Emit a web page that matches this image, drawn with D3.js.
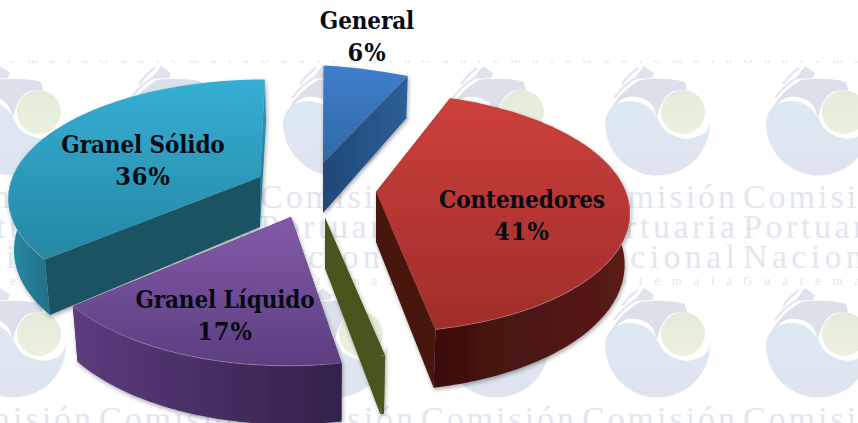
<!DOCTYPE html>
<html lang="es">
<head>
  <meta charset="UTF-8">
  <title>Carga por tipo</title>
  <script src="https://d3js.org/d3.v7.min.js"></script>
  <style>
    html, body { margin: 0; padding: 0; background: #fff; overflow: hidden; }
    .mark-text { font-family: "Liberation Serif", serif; fill: #e2e6ef; }
    .label { font-family: "DejaVu Serif", serif; font-stretch: condensed; font-weight: bold; font-size: 24px; letter-spacing: -0.12px; fill: #050a14; text-anchor: middle; }
    .percent { font-size: 25px; letter-spacing: 1px; }
  </style>
</head>
<body>
  <svg width="858" height="423"></svg>

  <script>
    // values (the green slice has no label, nearly zero)
    const categories = ['General', 'Contenedores', 'Otros', 'Granel Líquido', 'Granel Sólido'];
    const values = [6, 41, 0.2, 17, 36];
    const percentLabels = ['6%', '41%', '', '17%', '36%'];

    // watermark texts
    const markWords = ['Comisión', 'Portuaria', 'Nacional', 'Guatemala'];
    const markBaseline = [80, 110, 140, 157];
    const markSize = [34, 34, 34, 13];
    const tileX = [14, 175, 336, 497, 658, 819];
    const tileY = [-94, 128, 350];

    const svg = d3.select('svg');
    const defs = svg.append('defs');

    function gradient(id, stops, horizontal) {
      const g = defs.append('linearGradient').attr('id', id)
        .attr('x1', 0).attr('y1', 0)
        .attr('x2', horizontal ? 1 : 0).attr('y2', horizontal ? 0 : 1);
      stops.forEach((c, i) => g.append('stop')
        .attr('offset', i / (stops.length - 1)).attr('stop-color', c));
      return 'url(#' + id + ')';
    }

    defs.append('clipPath').attr('id', 'page')
      .append('rect').attr('x', 0).attr('y', 60).attr('width', 858).attr('height', 363);

    const shadow = defs.append('filter').attr('id', 'shadow')
      .attr('x', '-10%').attr('y', '-10%').attr('width', '120%').attr('height', '125%');
    shadow.append('feDropShadow').attr('dx', 1).attr('dy', 2).attr('stdDeviation', 2)
      .attr('flood-color', '#000').attr('flood-opacity', 0.35);

    const discFill = gradient('disc', ['#dce9f3', '#dfe4ef']);
    const sunFill = gradient('sun', ['#e4ebdb', '#ecf1dd']);

    // watermark tiles, the top row only shows the foot of its last word
    const marks = svg.append('g').attr('clip-path', 'url(#page)');
    tileY.forEach(ty => tileX.forEach(tx => {
      const t = marks.append('g').attr('transform', 'translate(' + tx + ',' + ty + ')');
      if (ty > 0) {
        t.append('path').attr('fill', discFill)
          .attr('d', 'M-53,-4A52,52 0 0 0 52,-6C50,2 46,7 40,8C32,12 24,11 17,8C9,5 5,1 2,-5C-4,-19 -14,-27 -28,-27C-42,-27 -53,-18 -53,-4Z');
        t.append('circle').attr('cx', 25).attr('cy', -16).attr('r', 22).attr('fill', sunFill);
        t.append('path').attr('fill', '#dbe0eb')
          .attr('d', 'M-50,-11C-46,-24 -38,-36 -18,-48C-4,-50 14,-50 27,-46L29,-38C22,-38 16,-38 12,-35C5,-30 1,-20 -1,-10C-3,-18 -6,-24 -9,-26C-15,-31 -24,-32 -30,-31C-38,-29 -45,-22 -50,-11Z');
        t.append('path').attr('fill', '#dfe3ed')
          .attr('d', 'M-24,-49L-14,-62L-4,-55L-6,-50Z');
        t.append('path').attr('fill', 'none').attr('stroke', '#e3e7f0').attr('stroke-width', 2.5)
          .attr('d', 'M-36,-44C-31,-51 -26,-56 -20,-60M-44,-30C-38,-38 -30,-46 -22,-50');
      }
      markWords.forEach((w, i) => {
        if (ty + markBaseline[i] < 60) return;
        t.append('text').attr('class', 'mark-text')
          .attr('x', -76).attr('y', markBaseline[i])
          .attr('font-size', markSize[i])
          .attr('textLength', i === 3 ? 150 : 153)
          .attr('lengthAdjust', 'spacing')
          .text(w);
      });
    }));

    // 3D pie: each slice has its own apex, flat disc seen in perspective
    const pie = d3.pie().sort(null)(values);
    const R = 250, Ry = 120, thick = 50, persp = 0.17, lean = 0.07, centerX = 330, narrow = 0.018;

    const apex = [
      { x: 323, y: 163, rx: 1.09, ry: 0.98, tilt: 14 },
      { x: 376, y: 192, rx: 1, ry: 1, tilt: 0 },
      { x: 325, y: 218, rx: 1.07, ry: 1, tilt: 0 },
      { x: 291, y: 217, rx: 1.01, ry: 1.06, tilt: 0 },
      { x: 260, y: 177, rx: 0.99, ry: 0.98, tilt: 0 }
    ];

    const looks = [
      { top: gradient('t0', ['#3f7fcb', '#3067a6']), cut: gradient('c0', ['#1f4877', '#2d5f98'], true), rim: '#2a5a92', end: gradient('e0', ['#1f4877', '#2d5f98'], true) },
      { top: gradient('t1', ['#cc403c', '#a02d2a']), cut: '#471411', rim: gradient('r1', ['#3c0f0e', '#5c1b18'], true), end: '#471411' },
      { top: '#46561f', cut: '#46561f', rim: '#46561f', end: '#46561f' },
      { top: gradient('t3', ['#825aa9', '#5c3e80']), cut: '#33214a', rim: gradient('r3', ['#5c3c7e', '#33214a'], true), end: '#33214a' },
      { top: gradient('t4', ['#35afd4', '#2587a4']), cut: '#1b5362', rim: gradient('r4', ['#2a8aa6', '#1f7088'], true), end: gradient('c4', ['#2fa0c2', '#1f7088']) }
    ];

    const line = d3.line();
    const closed = pts => line(pts) + 'Z';

    // z = 0 on the top face, z = 1 on the underside, which sits a little nearer the middle
    function rimPoint(a, theta, z) {
      const depth = -Math.cos(theta), s = 1 + persp * depth;
      const x = a.x + R * a.rx * Math.sin(theta) * s + (a.x - centerX) * lean * depth;
      const y = a.y + Ry * a.ry * depth * s + a.tilt * Math.sin(theta);
      return [x + z * narrow * (centerX - x), y + z * thick * s];
    }

    function arcAngles(from, to) {
      const n = Math.max(2, Math.ceil((to - from) / 0.02));
      return d3.range(n + 1).map(i => from + (to - from) * i / n);
    }

    function cutFace(a, theta) {
      return closed([[a.x, a.y], rimPoint(a, theta, 0), rimPoint(a, theta, 1), [a.x, a.y + thick]]);
    }

    const order = [0, 4, 1, 3, 2];
    const slices = svg.append('g');

    order.forEach(i => {
      const d = pie[i], a = apex[i], look = looks[i];
      const g = slices.append('g').attr('filter', 'url(#shadow)');

      g.append('path').attr('fill', look.end).attr('d', cutFace(a, d.endAngle));
      g.append('path').attr('fill', look.cut).attr('d', cutFace(a, d.startAngle));

      // outer band, only the part that faces the viewer
      const from = Math.max(d.startAngle, Math.PI / 2), to = Math.min(d.endAngle, Math.PI * 1.5);
      if (to > from) {
        const angles = arcAngles(from, to);
        const upper = angles.map(t => rimPoint(a, t, 0));
        const lower = angles.map(t => rimPoint(a, t, 1)).reverse();
        g.append('path').attr('fill', look.rim).attr('d', closed(upper.concat(lower)));
      }

      const top = [[a.x, a.y]].concat(arcAngles(d.startAngle, d.endAngle).map(t => rimPoint(a, t, 0)));
      g.append('path').attr('fill', look.top).attr('d', closed(top));

      if (to > from) {
        g.append('path').attr('fill', 'none').attr('stroke', '#fff').attr('stroke-opacity', 0.25)
          .attr('d', line(arcAngles(from, to).map(t => rimPoint(a, t, 0))));
      }
    });

    // labels
    const labelPos = [[367, 29], [522, 208], null, [225, 308], [143, 153]];
    const labels = svg.append('g');
    categories.forEach((name, i) => {
      if (!labelPos[i]) return;
      labels.append('text').attr('class', 'label')
        .attr('x', labelPos[i][0]).attr('y', labelPos[i][1]).text(name);
      labels.append('text').attr('class', 'label percent')
        .attr('x', labelPos[i][0]).attr('y', labelPos[i][1] + 32).text(percentLabels[i]);
    });
  </script>
</body>
</html>
